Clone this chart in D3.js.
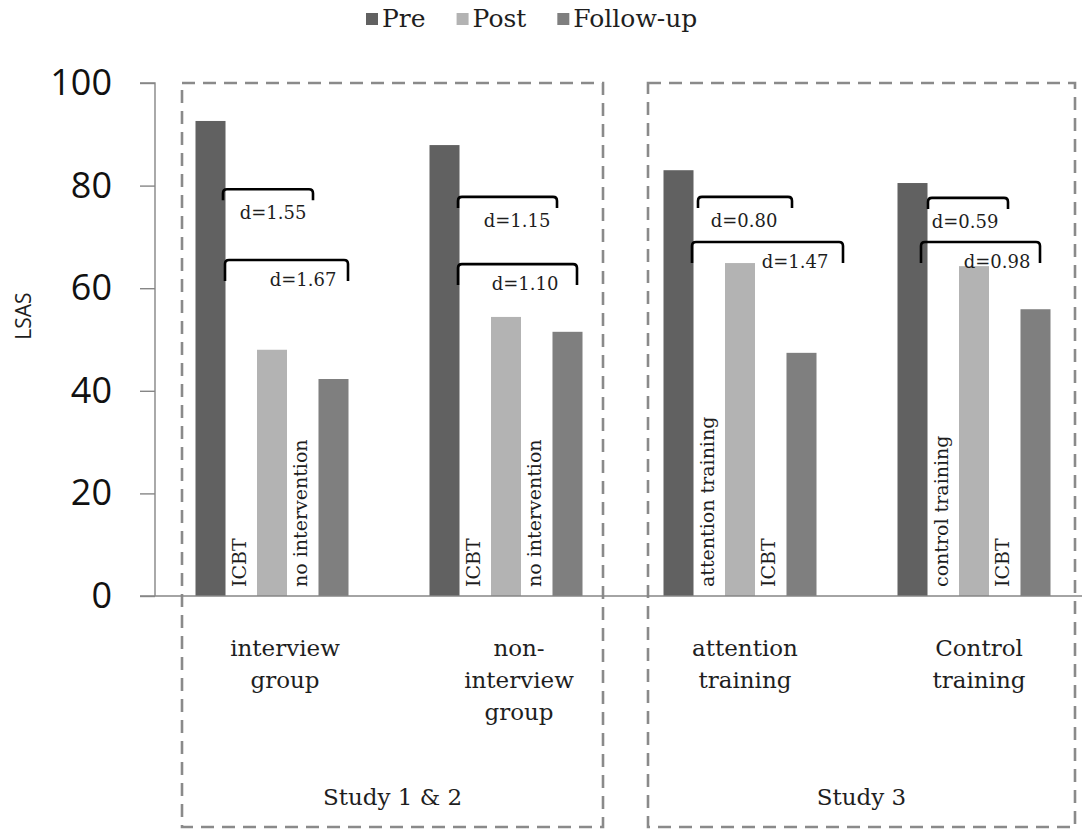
<!DOCTYPE html>
<html>
<head>
<meta charset="utf-8">
<script src="https://cdn.jsdelivr.net/npm/d3@7/dist/d3.min.js"></script>
<style>
  html, body { margin: 0; padding: 0; background: #fff; }
  svg { display: block; }
</style>
</head>
<body>
<svg id="chart" width="1082" height="829"></svg>
<script>
// ---- data ----
const categories = ["interview group", "non-interview group", "attention training", "Control training"];
const categoryLines = [["interview", "group"], ["non-", "interview", "group"], ["attention", "training"], ["Control", "training"]];
const series = ["Pre", "Post", "Follow-up"];
const preValues = [92.6, 87.9, 83.0, 80.5];
const postValues = [48.0, 54.4, 64.9, 64.3];
const followUpValues = [42.3, 51.5, 47.4, 55.9];
const yTicks = [0, 20, 40, 60, 80, 100];
const postEffect = [1.55, 1.15, 0.80, 0.59];
const followUpEffect = [1.67, 1.10, 1.47, 0.98];
const conditionLabels = [
  ["ICBT", "no intervention"],
  ["ICBT", "no intervention"],
  ["attention training", "ICBT"],
  ["control training", "ICBT"]
];
const studies = ["Study 1 & 2", "Study 3"];
const yLabel = "LSAS";

// ---- layout ----
const W = 1082, H = 829;
const plotLeft = 155, plotRight = 1091, plotTop = 83, plotBottom = 596;
const colors = { "Pre": "#616161", "Post": "#b3b3b3", "Follow-up": "#7f7f7f" };
const serif = "'DejaVu Serif', serif";
const sans = "'Open Sans', 'Noto Sans', sans-serif";
const textColor = "#1e1e1e";

// bracket levels (in LSAS units) and horizontal extents relative to each category band
const bracketPostLevel = [79.3, 77.8, 77.8, 77.6];
const bracketFollowLevel = [65.5, 64.7, 69.0, 69.0];
const bracketPostSpan = [[68, 158], [69, 168], [75, 169], [71, 151]];
const bracketFollowSpan = [[70, 193], [69, 188], [69, 220], [64, 183]];
const labelPostX = [118, 128, 121, 108];
const labelFollowX = [148, 136, 172, 140];
const categoryLabelDx = [13, 13, 5, 5];

const svg = d3.select("#chart");

const x0 = d3.scaleBand().domain(categories).range([plotLeft, plotRight]).padding(0);
const x1 = d3.scaleBand().domain(series).range([40.5, x0.bandwidth() - 40.5]).paddingInner(0.512).paddingOuter(0);
const y = d3.scaleLinear().domain([0, 100]).range([plotBottom, plotTop]);

const valuesBySeries = { "Pre": preValues, "Post": postValues, "Follow-up": followUpValues };
const rows = categories.map((c, i) => ({ cat: c, i, vals: series.map(s => ({ s, v: valuesBySeries[s][i] })) }));

// ---- dashed study boxes ----
const boxBottom = 827;
const boxes = [
  { l: x0(categories[0]) + 27, r: x0(categories[1]) + x0.bandwidth() - 20 },
  { l: x0(categories[2]) + 25, r: x0(categories[3]) + x0.bandwidth() - 16 }
];
svg.append("g").selectAll("rect").data(boxes).join("rect")
  .attr("x", d => d.l).attr("y", y(100))
  .attr("width", d => d.r - d.l).attr("height", boxBottom - y(100))
  .attr("fill", "none").attr("stroke", "#8a8a8a")
  .attr("stroke-width", 2.6).attr("stroke-dasharray", "13 8");

svg.append("g").selectAll("text").data(studies).join("text")
  .attr("x", (d, i) => (boxes[i].l + boxes[i].r) / 2)
  .attr("y", 805)
  .attr("text-anchor", "middle")
  .attr("font-family", serif).attr("font-size", 23).attr("fill", textColor)
  .text(d => d);

// ---- y axis ----
const yAxis = d3.axisLeft(y).tickValues(yTicks).tickSize(15).tickPadding(28).tickFormat(d3.format("d"));
const gy = svg.append("g").attr("transform", `translate(${plotLeft},0)`).call(yAxis);
gy.select(".domain").attr("stroke", "#868686").attr("stroke-width", 1.4).attr("d", `M-15,${y(100)}H0V${plotBottom}`);
gy.selectAll(".tick line").attr("stroke", "#868686").attr("stroke-width", 1.4);
gy.selectAll(".tick text").attr("font-family", sans).attr("font-size", 36).attr("fill", "#111");

svg.append("text")
  .attr("transform", `translate(31,316) rotate(-90)`)
  .attr("text-anchor", "middle")
  .attr("font-family", sans).attr("font-size", 21).attr("fill", textColor)
  .text(yLabel);

// ---- bars ----
const groups = svg.append("g").selectAll("g").data(rows).join("g")
  .attr("transform", d => `translate(${x0(d.cat)},0)`);
groups.selectAll("rect").data(d => d.vals).join("rect")
  .attr("x", d => x1(d.s)).attr("width", x1.bandwidth())
  .attr("y", d => y(d.v)).attr("height", d => y(0) - y(d.v))
  .attr("fill", d => colors[d.s]);

// x baseline
svg.append("line")
  .attr("x1", plotLeft - 15).attr("x2", W).attr("y1", y(0)).attr("y2", y(0))
  .attr("stroke", "#868686").attr("stroke-width", 1.4);

// ---- condition labels inside the gaps between bars ----
groups.each(function (d) {
  const g = d3.select(this);
  const gap1 = (x1("Pre") + x1.bandwidth() + x1("Post")) / 2 - 2;
  const gap2 = (x1("Post") + x1.bandwidth() + x1("Follow-up")) / 2 - 3;
  [gap1, gap2].forEach((gx, k) => {
    g.append("text")
      .attr("transform", `translate(${gx + 7},${y(0) - 9}) rotate(-90)`)
      .attr("text-anchor", "start")
      .attr("font-family", serif).attr("font-size", 19).attr("fill", textColor)
      .text(conditionLabels[d.i][k]);
  });
});

// ---- effect-size brackets ----
function bracketPath(xa, xb, yl, drop) {
  const r = 4;
  return `M${xa},${yl + drop}V${yl + r}Q${xa},${yl} ${xa + r},${yl}H${xb - r}Q${xb},${yl} ${xb},${yl + r}V${yl + drop}`;
}
const fmt = d3.format(".2f");
groups.each(function (d) {
  const g = d3.select(this);
  const i = d.i;
  const yl1 = y(bracketPostLevel[i]);
  const yl2 = y(bracketFollowLevel[i]);
  g.append("path").attr("d", bracketPath(bracketPostSpan[i][0], bracketPostSpan[i][1], yl1, 11))
    .attr("fill", "none").attr("stroke", "#000").attr("stroke-width", 2.6);
  g.append("path").attr("d", bracketPath(bracketFollowSpan[i][0], bracketFollowSpan[i][1], yl2, 21))
    .attr("fill", "none").attr("stroke", "#000").attr("stroke-width", 2.6);
  g.append("text").attr("x", labelPostX[i]).attr("y", yl1 + 30)
    .attr("text-anchor", "middle").attr("font-family", serif).attr("font-size", 18).attr("fill", textColor)
    .text("d=" + fmt(postEffect[i]));
  g.append("text").attr("x", labelFollowX[i]).attr("y", yl2 + 26)
    .attr("text-anchor", "middle").attr("font-family", serif).attr("font-size", 18).attr("fill", textColor)
    .text("d=" + fmt(followUpEffect[i]));
});

// ---- category labels ----
groups.each(function (d) {
  const g = d3.select(this);
  const t = g.append("text")
    .attr("text-anchor", "middle")
    .attr("font-family", serif).attr("font-size", 23).attr("fill", textColor);
  categoryLines[d.i].forEach((line, k) => {
    t.append("tspan").attr("x", x0.bandwidth() / 2 + categoryLabelDx[d.i]).attr("y", 656 + k * 32).text(line);
  });
});

// ---- legend ----
const legend = svg.append("g").attr("transform", "translate(366,0)");
let lx = 0;
const legendGap = 31;
series.forEach(s => {
  const item = legend.append("g").attr("transform", `translate(${lx},0)`);
  item.append("rect").attr("x", 0).attr("y", 13).attr("width", 12).attr("height", 12).attr("fill", colors[s]);
  const t = item.append("text").attr("x", 16).attr("y", 27)
    .attr("font-family", serif).attr("font-size", 25).attr("fill", textColor).text(s);
  lx += 16 + t.node().getComputedTextLength() + legendGap;
});
</script>
</body>
</html>
